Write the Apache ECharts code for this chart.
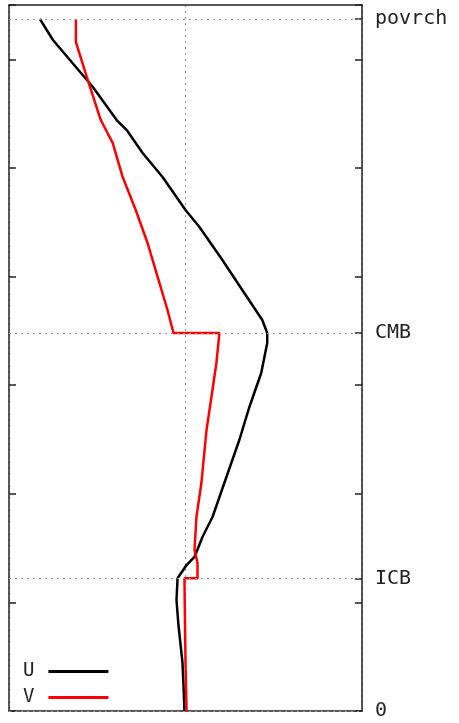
<!DOCTYPE html>
<html>
<head>
<meta charset="utf-8">
<script src="https://cdn.jsdelivr.net/npm/echarts@6/dist/echarts.min.js"></script>
<style>html,body{margin:0;padding:0;background:#fff;}#c{width:459px;height:723px;}</style>
</head>
<body>
<div id="c"></div>
<script>
// Radius (km) and normalized amplitude for U and V
var uRadius = [6371, 6178, 5745, 5441, 5349, 5137, 4916, 4613, 4456, 4152, 3848, 3600, 3480, 3388, 3112, 2799, 2495, 2099, 1786, 1602, 1418, 1344, 1222, 1022, 792, 442, 221, 0];
var uValues = [-0.825, -0.751, -0.525, -0.390, -0.333, -0.243, -0.130, 0.000, 0.079, 0.209, 0.333, 0.435, 0.463, 0.463, 0.429, 0.362, 0.305, 0.220, 0.153, 0.096, 0.051, 0.006, -0.045, -0.051, -0.040, -0.017, -0.011, -0.006];
var vRadius = [6371, 6159, 5837, 5441, 5229, 4916, 4613, 4309, 3996, 3692, 3480, 3480, 3204, 2891, 2587, 2099, 1786, 1482, 1363, 1222, 1222, 442, 0];
var vValues = [-0.621, -0.621, -0.559, -0.480, -0.412, -0.356, -0.282, -0.215, -0.158, -0.102, -0.068, 0.192, 0.175, 0.147, 0.119, 0.090, 0.062, 0.051, 0.068, 0.068, -0.006, 0.000, 0.006];
var boundaryRadius = [0, 1221.5, 3480, 6371];
var boundaryNames = ['0', 'ICB', 'CMB', 'povrch'];
var seriesNames = ['U', 'V'];

function pairs(xs, ys) { return xs.map(function (x, i) { return [x, ys[i]]; }); }

var FONT = 'DejaVu Sans Mono';
var frame = { show: true, onZero: false, lineStyle: { color: '#222', width: 1.5 } };
var dash = { color: '#999', width: 1.2, type: [2, 4] };
var tick = { show: true, inside: true, length: 7, lineStyle: { color: '#222', width: 1.5 } };

var chart = echarts.init(document.getElementById('c'), null, { renderer: 'canvas' });
chart.setOption({
  animation: false,
  backgroundColor: '#fff',
  grid: { left: 9, top: 5, width: 353, height: 706, containLabel: false },
  legend: {
    data: seriesNames,
    orient: 'vertical',
    left: 18,
    top: 657,
    align: 'right',
    icon: 'rect',
    itemWidth: 60,
    itemHeight: 3,
    itemGap: 7,
    textStyle: { fontFamily: FONT, fontSize: 19, lineHeight: 18, color: '#222', padding: [0, 9, 0, 0] }
  },
  xAxis: [
    { type: 'value', min: -1, max: 1, interval: 1, position: 'bottom',
      axisLine: frame, axisTick: { show: false }, axisLabel: { show: false },
      splitLine: { show: true, lineStyle: dash } },
    { type: 'value', min: -1, max: 1, interval: 1, position: 'top',
      axisLine: frame, axisTick: { show: false }, axisLabel: { show: false },
      splitLine: { show: false } }
  ],
  yAxis: [
    { type: 'value', min: 0, max: 6500, interval: 1000, position: 'left',
      axisLine: frame, axisTick: tick,
      axisLabel: { show: false }, splitLine: { show: false } },
    { type: 'value', min: 0, max: 6500, interval: 1000, position: 'right',
      axisLine: frame, axisTick: tick,
      axisLabel: { show: false }, splitLine: { show: false } },
    { type: 'value', min: 0, max: 6500, position: 'right',
      axisLine: { show: false, onZero: false },
      axisTick: { show: true, inside: true, length: 7, customValues: boundaryRadius, lineStyle: { color: '#222', width: 1.5 } },
      axisLabel: { show: true, customValues: boundaryRadius, margin: 13, fontFamily: FONT, fontSize: 20, color: '#222',
        formatter: function (v) { var i = boundaryRadius.indexOf(v); return i >= 0 ? boundaryNames[i] : ''; } },
      splitLine: { show: false } }
  ],
  series: [
    { name: seriesNames[0], type: 'line', xAxisIndex: 0, yAxisIndex: 0, symbol: 'none',
      data: pairs(uValues, uRadius), lineStyle: { color: '#000', width: 2.5 }, itemStyle: { color: '#000' }, z: 3,
      markLine: { silent: true, symbol: 'none', label: { show: false }, lineStyle: dash,
        data: boundaryRadius.map(function (r) { return { yAxis: r }; }) } },
    { name: seriesNames[1], type: 'line', xAxisIndex: 0, yAxisIndex: 0, symbol: 'none',
      data: pairs(vValues, vRadius), lineStyle: { color: '#f00', width: 2.5 }, itemStyle: { color: '#f00' }, z: 4 }
  ]
});
</script>
</body>
</html>
